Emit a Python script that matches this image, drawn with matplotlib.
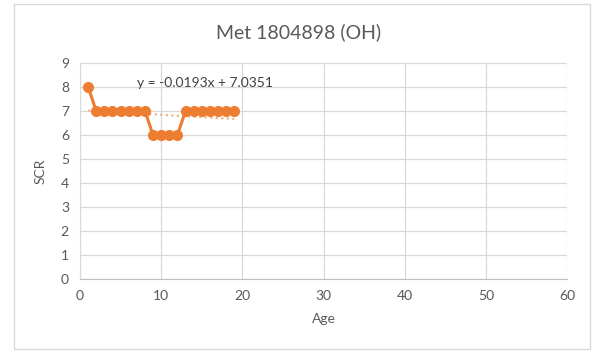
import matplotlib
matplotlib.use("Agg")
import matplotlib.pyplot as plt
import numpy as np
from matplotlib.patches import Rectangle

plt.rcParams['font.family'] = ['Lato', 'DejaVu Sans']

age = [1, 2, 3, 4, 5, 6, 7, 8, 9, 10, 11, 12, 13, 14, 15, 16, 17, 18, 19]
scr = [8, 7, 7, 7, 7, 7, 7, 7, 6, 6, 6, 6, 7, 7, 7, 7, 7, 7, 7]
title = "Met 1804898 (OH)"

text_col = '#595959'
grid_col = '#d9d9d9'
orange = '#ed7d31'

fig = plt.figure(figsize=(5.97, 3.51), dpi=100)
# outer chart border
fig.patches.append(Rectangle((14 / 597, 1 - 349 / 351), (590 - 14) / 597, (349 - 4) / 351,
                             transform=fig.transFigure, fill=False,
                             edgecolor='#d9d9d9', linewidth=1))

ax = fig.add_axes([80 / 597, 1 - 279 / 351, (567 - 80) / 597, (279 - 63) / 351])
ax.plot(age, scr, color=orange, linewidth=2.2, marker='o', markersize=7, zorder=3)

# linear trendline
slope, intercept = np.polyfit(age, scr, 1)
xs = np.array([min(age), max(age)])
ax.plot(xs, slope * xs + intercept, color='#f4b183', linestyle=(0, (1, 1.5)),
        linewidth=1.6, zorder=2)
ax.text(7.0, 8.15, "y = %.4fx + %.4f" % (slope, intercept), ha='left', va='center',
        fontsize=10, color='#404040')

ax.set_xlim(0, 60)
ax.set_ylim(0, 9)
ax.set_xticks(range(0, 61, 10))
ax.set_yticks(range(0, 10))
ax.grid(True, color=grid_col, linewidth=0.9)
ax.set_axisbelow(True)
for s in ['top', 'right']:
    ax.spines[s].set_visible(False)
ax.spines['left'].set_color(grid_col)
ax.spines['bottom'].set_color('#bfbfbf')
ax.tick_params(length=0, colors=text_col, labelsize=10, pad=8)
ax.set_xlabel("Age", color=text_col, fontsize=10, labelpad=8)
ax.set_ylabel("SCR", color=text_col, fontsize=10, labelpad=10)
fig.text(0.5, 1 - 32 / 351, title, ha='center', va='center', fontsize=14, color=text_col)

fig.savefig("out.png", dpi=100)
